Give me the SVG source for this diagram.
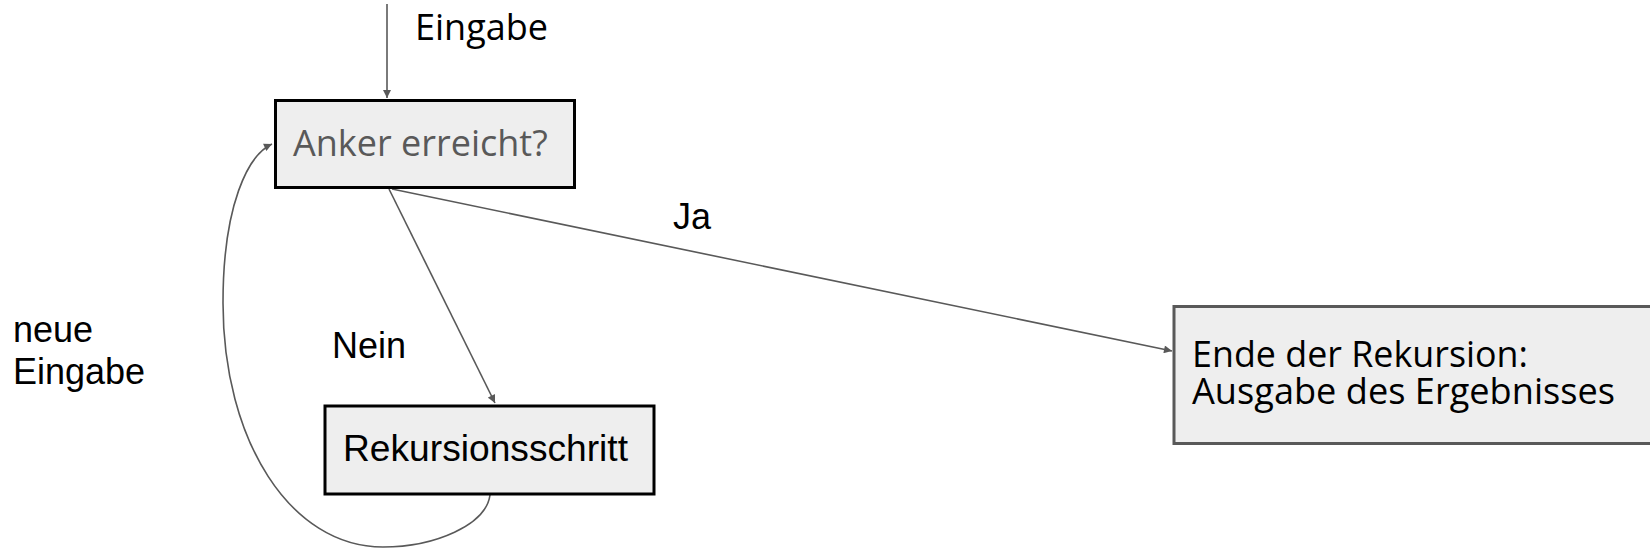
<svg xmlns="http://www.w3.org/2000/svg" width="1650" height="550" viewBox="0 0 1650 550">
  <style>
    .box { fill: #eeeeee; stroke-width: 3; }
    .dark { stroke: #000000; }
    .grey { stroke: #595959; }
    .edge { fill: none; stroke: #595959; stroke-width: 1.6; }
    .ub { font-family: "Open Sans", "Noto Sans", sans-serif; font-size: 36px; }
    .ar { font-family: "Liberation Sans", Arial, sans-serif; font-size: 36px; fill: #000000; }
  </style>
  <defs>
    <marker id="head" viewBox="0 0 10 10" refX="10" refY="5" markerWidth="9" markerHeight="8" markerUnits="userSpaceOnUse" orient="auto">
      <path d="M0,0 L10,5 L0,10 z" fill="#595959"/>
    </marker>
  </defs>

  <rect width="1650" height="550" fill="#ffffff"/>

  <!-- connectors -->
  <g id="connectors">
    <line class="edge" x1="387" y1="4" x2="387" y2="98" marker-end="url(#head)"/>
    <line class="edge" x1="389" y1="189" x2="495" y2="403" marker-end="url(#head)"/>
    <line class="edge" x1="392" y1="189" x2="1172" y2="351" marker-end="url(#head)"/>
    <path class="edge" d="M490,495 C486,525 435,547 383,547 C290,547 223,440 223,303 C223,205 248,155 272,144" marker-end="url(#head)"/>
  </g>

  <!-- edge labels -->
  <g id="labels">
    <text class="ub" x="415" y="40" fill="#000000">Eingabe</text>
    <text class="ar" x="673" y="229" font-size="35">Ja</text>
    <text class="ar" x="332" y="358">Nein</text>
    <text class="ar" x="13" y="342">neue</text>
    <text class="ar" x="13" y="384">Eingabe</text>
  </g>

  <!-- nodes -->
  <g id="anker">
    <rect class="box dark" x="275.5" y="100.5" width="299" height="87"/>
    <text class="ub" x="293" y="156" fill="#595959">Anker erreicht?</text>
  </g>

  <g id="schritt">
    <rect class="box dark" x="325" y="406" width="329" height="88"/>
    <text class="ar" x="343" y="461" font-size="38" textLength="285" lengthAdjust="spacingAndGlyphs">Rekursionsschritt</text>
  </g>

  <g id="ende">
    <rect class="box grey" x="1174" y="306.5" width="500" height="137"/>
    <text class="ub" x="1192" y="367" font-size="32" textLength="336" lengthAdjust="spacingAndGlyphs" fill="#000000">Ende der Rekursion:</text>
    <text class="ub" x="1192" y="404" font-size="32" textLength="423" lengthAdjust="spacingAndGlyphs" fill="#000000">Ausgabe des Ergebnisses</text>
  </g>
</svg>
